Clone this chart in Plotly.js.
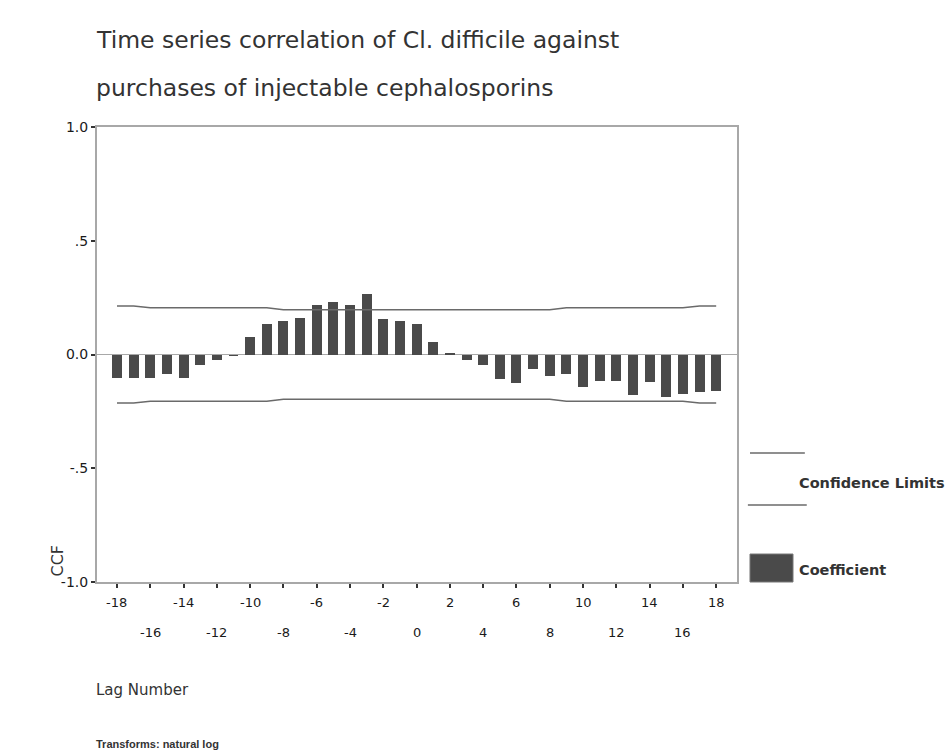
<!DOCTYPE html>
<html>
<head>
<meta charset="utf-8">
<script src="https://cdn.plot.ly/plotly-3.0.1.min.js"></script>
<style>
  html, body { margin: 0; padding: 0; background: #ffffff; }
  #chart { width: 948px; height: 755px; }
</style>
</head>
<body>
<div id="chart"></div>
<script>
// Cross-correlation lags
const lags = [-18, -17, -16, -15, -14, -13, -12, -11, -10, -9, -8, -7, -6, -5, -4, -3, -2, -1,
              0, 1, 2, 3, 4, 5, 6, 7, 8, 9, 10, 11, 12, 13, 14, 15, 16, 17, 18];

// CCF coefficient at each lag
const coefficients = [-0.105, -0.105, -0.105, -0.086, -0.103, -0.048, -0.023, -0.005, 0.079, 0.134,
                      0.149, 0.161, 0.216, 0.231, 0.216, 0.268, 0.158, 0.146,
                      0.132, 0.056, 0.005, -0.026, -0.048, -0.107, -0.126, -0.063, -0.095, -0.085,
                      -0.143, -0.118, -0.118, -0.180, -0.120, -0.188, -0.173, -0.165, -0.160];

// Upper confidence limit at each lag (lower limit is its negative)
const upperLimit = [0.213, 0.213, 0.205, 0.205, 0.205, 0.205, 0.205, 0.205, 0.205, 0.205,
                    0.197, 0.197, 0.197, 0.197, 0.197, 0.197, 0.197, 0.197,
                    0.197, 0.197, 0.197, 0.197, 0.197, 0.197, 0.197, 0.197, 0.197, 0.205,
                    0.205, 0.205, 0.205, 0.205, 0.205, 0.205, 0.205, 0.213, 0.213];
const lowerLimit = upperLimit.map(v => -v);

// Axis ticks
const xTickLags = [-18, -16, -14, -12, -10, -8, -6, -4, -2, 0, 2, 4, 6, 8, 10, 12, 14, 16, 18];
const yTickVals = [-1, -0.5, 0, 0.5, 1];
const yTickText = ['-1.0', '-.5', '0.0', '.5', '1.0'];

// Text
const titleLines = ['Time series correlation of Cl. difficile against',
                    'purchases of injectable cephalosporins'];
const yTitle = 'CCF';
const xTitle = 'Lag Number';
const footnote = 'Transforms: natural log';
const legendLimits = 'Confidence Limits';
const legendCoef = 'Coefficient';

const FONT = 'DejaVu Sans, Arial, sans-serif';
const ARIAL = 'Liberation Sans, Arial, sans-serif';
const TEXT = '#333333';
const TICKTEXT = '#1a1a1a';
const BAR = '#4a4a4a';
const LIMIT = '#6a6a6a';

const traces = [
  {
    type: 'bar', x: lags, y: coefficients, width: 0.6,
    marker: { color: BAR, line: { width: 0 } },
    hoverinfo: 'x+y', showlegend: false
  },
  {
    type: 'scatter', mode: 'lines', x: lags, y: upperLimit,
    line: { color: LIMIT, width: 1.5 }, showlegend: false
  },
  {
    type: 'scatter', mode: 'lines', x: lags, y: lowerLimit,
    line: { color: LIMIT, width: 1.5 }, showlegend: false
  }
];

const annotations = [];

// Two-line chart title, left aligned with the plot frame
annotations.push({ xref: 'paper', yref: 'paper', x: -0.005, y: 1.191, xanchor: 'left', yanchor: 'middle',
  text: titleLines[0], showarrow: false, font: { family: FONT, size: 23.5, color: TEXT } });
annotations.push({ xref: 'paper', yref: 'paper', x: -0.005, y: 1.086, xanchor: 'left', yanchor: 'middle',
  text: titleLines[1], showarrow: false, font: { family: FONT, size: 23.5, color: TEXT } });

// Staggered x tick labels: alternate lags drop to a second row
xTickLags.forEach((lag, i) => {
  annotations.push({ xref: 'x', yref: 'paper', x: lag, y: i % 2 === 0 ? -0.044 : -0.11,
    xanchor: 'center', yanchor: 'middle', text: String(lag), showarrow: false,
    font: { family: FONT, size: 13, color: TICKTEXT } });
});

// Axis titles and footnote
annotations.push({ xref: 'paper', yref: 'paper', x: -0.062, y: 0.048, xanchor: 'center', yanchor: 'middle',
  text: yTitle, textangle: -90, showarrow: false, font: { family: FONT, size: 16, color: TEXT } });
annotations.push({ xref: 'paper', yref: 'paper', x: -0.004, y: -0.237, xanchor: 'left', yanchor: 'middle',
  text: xTitle, showarrow: false, font: { family: FONT, size: 15, color: TEXT } });
annotations.push({ xref: 'paper', yref: 'paper', x: -0.004, y: -0.357, xanchor: 'left', yanchor: 'middle',
  text: '<b>' + footnote + '</b>', showarrow: false, font: { family: ARIAL, size: 11, color: TEXT } });

// Legend text
annotations.push({ xref: 'paper', yref: 'paper', x: 1.093, y: 0.2176, xanchor: 'left', yanchor: 'middle',
  text: '<b>' + legendLimits + '</b>', showarrow: false, font: { family: FONT, size: 14.5, color: TEXT } });
annotations.push({ xref: 'paper', yref: 'paper', x: 1.093, y: 0.026, xanchor: 'left', yanchor: 'middle',
  text: '<b>' + legendCoef + '</b>', showarrow: false, font: { family: FONT, size: 14.5, color: TEXT } });

// Legend symbols
const shapes = [
  { type: 'line', xref: 'paper', yref: 'paper', x0: 1.0203, x1: 1.106, y0: 0.2835, y1: 0.2835,
    line: { color: LIMIT, width: 1.5 } },
  { type: 'line', xref: 'paper', yref: 'paper', x0: 1.017, x1: 1.109, y0: 0.169, y1: 0.169,
    line: { color: LIMIT, width: 1.5 } },
  { type: 'rect', xref: 'paper', yref: 'paper', x0: 1.0203, x1: 1.0875, y0: 0.0, y1: 0.0615,
    fillcolor: BAR, line: { color: '#777777', width: 1 } }
];

const layout = {
  width: 948, height: 755,
  margin: { l: 97, r: 211, t: 127, b: 173, pad: 0 },
  paper_bgcolor: '#ffffff', plot_bgcolor: '#ffffff',
  showlegend: false,
  bargap: 0,
  font: { family: FONT, color: TEXT },
  xaxis: {
    range: [-19.2, 19.25], showgrid: false, zeroline: false,
    showline: true, linecolor: '#a8a8a8', linewidth: 2, mirror: true,
    ticks: 'outside', tickvals: xTickLags, ticklen: 4, tickwidth: 2, tickcolor: '#333333',
    showticklabels: false, fixedrange: true
  },
  yaxis: {
    range: [-1, 1], showgrid: false,
    zeroline: true, zerolinecolor: '#a8a8a8', zerolinewidth: 1.5,
    showline: true, linecolor: '#a8a8a8', linewidth: 2, mirror: true,
    ticks: 'outside', tickvals: yTickVals, ticktext: yTickText,
    ticklen: 4, tickwidth: 2, tickcolor: '#333333',
    tickfont: { family: FONT, size: 14, color: TICKTEXT }, fixedrange: true
  },
  annotations: annotations,
  shapes: shapes
};

Plotly.newPlot('chart', traces, layout, { displayModeBar: false, staticPlot: true });
</script>
</body>
</html>
